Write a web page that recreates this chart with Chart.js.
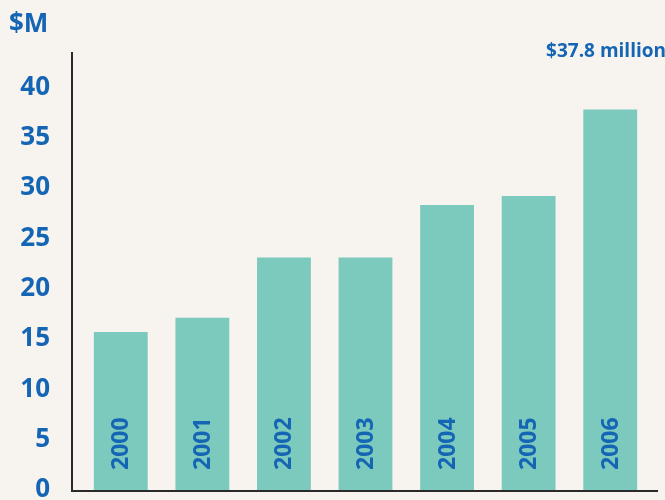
<!DOCTYPE html>
<html>
<head>
<meta charset="utf-8">
<script src="https://cdn.jsdelivr.net/npm/chart.js@4"></script>
<style>
  html, body { margin: 0; padding: 0; background: #f7f3ef; }
  #wrap { width: 665px; height: 500px; position: relative; }
</style>
</head>
<body>
<div id="wrap"><canvas id="bar-chart"></canvas></div>
<script>
var years = ['2000', '2001', '2002', '2003', '2004', '2005', '2006'];
var revenue = [15.7, 17.1, 23.1, 23.1, 28.3, 29.2, 37.8];
var yTicks = [0, 5, 10, 15, 20, 25, 30, 35, 40];

var blue = '#1565b5';
var barColor = '#7ccabe';

// axis lines, year labels inside bars and the two captions
var decorations = {
  id: 'decorations',
  afterDatasetsDraw: function(chart) {
    var ctx = chart.ctx;
    var area = chart.chartArea;
    var meta = chart.getDatasetMeta(0);
    ctx.save();
    ctx.fillStyle = blue;
    ctx.font = 'bold 23px "Open Sans"';
    ctx.textAlign = 'left';
    ctx.textBaseline = 'middle';
    meta.data.forEach(function(bar, i) {
      ctx.save();
      ctx.translate(bar.x + 1, area.bottom - 20);
      ctx.rotate(-Math.PI / 2);
      ctx.fillText(years[i], 0, 0);
      ctx.restore();
    });

    ctx.strokeStyle = '#2a2a2a';
    ctx.lineWidth = 2;
    ctx.beginPath();
    ctx.moveTo(72, area.top);
    ctx.lineTo(72, area.bottom + 1);
    ctx.lineTo(658, area.bottom + 1);
    ctx.stroke();

    ctx.font = 'bold 26px "Open Sans"';
    ctx.textAlign = 'left';
    ctx.fillText('$M', 9, 25);
    ctx.font = 'bold 19px "Open Sans"';
    ctx.textAlign = 'right';
    ctx.fillText('$37.8 million', 666, 52);
    ctx.restore();
  }
};

new Chart(document.getElementById('bar-chart'), {
  type: 'bar',
  data: {
    labels: years,
    datasets: [{
      data: revenue,
      backgroundColor: barColor,
      borderWidth: 0,
      barPercentage: 0.66,
      categoryPercentage: 1
    }]
  },
  options: {
    responsive: true,
    maintainAspectRatio: false,
    animation: false,
    layout: {
      padding: { top: 52, right: 14, bottom: 10, left: 0 }
    },
    plugins: {
      legend: { display: false },
      tooltip: { enabled: false }
    },
    scales: {
      x: {
        display: false
      },
      y: {
        min: 0,
        max: 43.5,
        afterFit: function(scale) {
          scale.width = 80;
          scale.paddingTop = 0;
          scale.paddingBottom = 0;
        },
        afterBuildTicks: function(scale) {
          scale.ticks = yTicks.map(function(v) { return { value: v }; });
        },
        grid: { display: false, drawTicks: false },
        border: { display: false },
        ticks: {
          color: blue,
          padding: 30,
          font: { family: 'Open Sans', size: 26, weight: 'bold' }
        }
      }
    }
  },
  plugins: [decorations]
});
</script>
</body>
</html>
